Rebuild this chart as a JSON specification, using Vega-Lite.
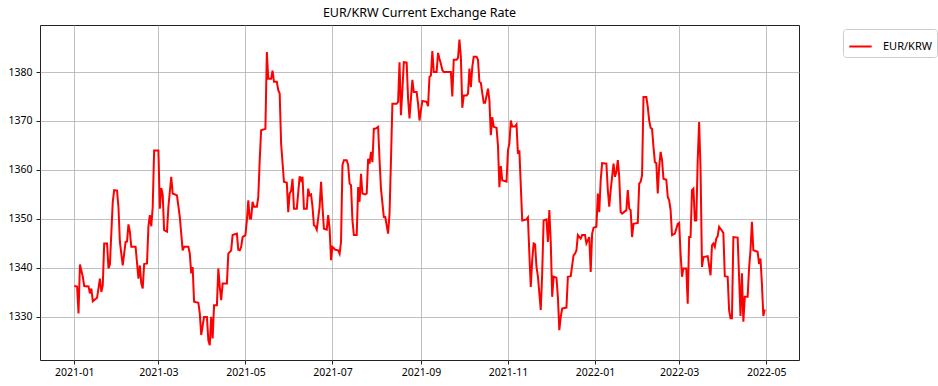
{
  "$schema": "https://vega.github.io/schema/vega-lite/v6.json",
  "autosize": {"type": "none"},
  "width": 759,
  "height": 335,
  "padding": {"left": 40, "top": 25, "right": 139, "bottom": 26},
  "background": "white",
  "title": {"text": "EUR/KRW Current Exchange Rate", "fontSize": 12.5, "fontWeight": "normal", "font": "Noto Sans", "color": "black", "anchor": "middle", "offset": 6},
  "config": {
    "font": "Noto Sans",
    "view": {"stroke": "#222", "strokeWidth": 1},
    "axis": {"labelColor": "black", "labelFontSize": 10.5, "tickColor": "#222", "tickSize": 4, "domain": false, "gridColor": "#b0b0b0", "gridWidth": 0.8, "labelPadding": 3, "title": null},
    "legend": {"labelFontSize": 11, "labelColor": "black"}
  },
  "data": {"values": [
{"date":"2021-01-01","rate":1336.3},{"date":"2021-01-03","rate":1336.2},{"date":"2021-01-04","rate":1330.7},{"date":"2021-01-05","rate":1340.7},{"date":"2021-01-07","rate":1338.2},{"date":"2021-01-08","rate":1336.3},{"date":"2021-01-11","rate":1336.2},{"date":"2021-01-12","rate":1334.8},{"date":"2021-01-13","rate":1335.8},{"date":"2021-01-14","rate":1333.2},{"date":"2021-01-17","rate":1333.9},{"date":"2021-01-19","rate":1337.8},{"date":"2021-01-20","rate":1335.1},{"date":"2021-01-21","rate":1336.5},{"date":"2021-01-22","rate":1345.0},{"date":"2021-01-24","rate":1345.0},{"date":"2021-01-25","rate":1339.9},{"date":"2021-01-26","rate":1340.7},{"date":"2021-01-28","rate":1353.5},{"date":"2021-01-29","rate":1355.9},{"date":"2021-01-31","rate":1355.8},
{"date":"2021-02-01","rate":1352.4},{"date":"2021-02-02","rate":1345.3},{"date":"2021-02-04","rate":1340.5},{"date":"2021-02-05","rate":1342.9},{"date":"2021-02-06","rate":1345.3},{"date":"2021-02-07","rate":1345.4},{"date":"2021-02-08","rate":1348.9},{"date":"2021-02-09","rate":1347.4},{"date":"2021-02-10","rate":1344.3},{"date":"2021-02-13","rate":1344.3},{"date":"2021-02-15","rate":1337.8},{"date":"2021-02-16","rate":1340.5},{"date":"2021-02-17","rate":1336.8},{"date":"2021-02-18","rate":1335.8},{"date":"2021-02-19","rate":1340.8},{"date":"2021-02-21","rate":1340.9},{"date":"2021-02-22","rate":1348.5},{"date":"2021-02-23","rate":1350.8},{"date":"2021-02-24","rate":1348.5},{"date":"2021-02-25","rate":1352.4},{"date":"2021-02-26","rate":1364.0},
{"date":"2021-03-01","rate":1364.0},{"date":"2021-03-02","rate":1352.1},{"date":"2021-03-03","rate":1356.3},{"date":"2021-03-04","rate":1355.0},{"date":"2021-03-05","rate":1347.7},{"date":"2021-03-07","rate":1347.4},{"date":"2021-03-08","rate":1352.5},{"date":"2021-03-10","rate":1358.6},{"date":"2021-03-11","rate":1355.2},{"date":"2021-03-14","rate":1354.8},{"date":"2021-03-16","rate":1350.4},{"date":"2021-03-18","rate":1343.6},{"date":"2021-03-19","rate":1344.3},{"date":"2021-03-22","rate":1344.3},{"date":"2021-03-23","rate":1342.9},{"date":"2021-03-24","rate":1338.9},{"date":"2021-03-25","rate":1340.2},{"date":"2021-03-26","rate":1333.1},{"date":"2021-03-29","rate":1332.9},{"date":"2021-03-30","rate":1330.7},{"date":"2021-03-31","rate":1326.3},
{"date":"2021-04-02","rate":1330.0},{"date":"2021-04-04","rate":1330.0},{"date":"2021-04-05","rate":1325.2},{"date":"2021-04-06","rate":1324.2},{"date":"2021-04-07","rate":1330.0},{"date":"2021-04-08","rate":1325.6},{"date":"2021-04-09","rate":1332.4},{"date":"2021-04-11","rate":1332.4},{"date":"2021-04-12","rate":1339.9},{"date":"2021-04-13","rate":1336.1},{"date":"2021-04-14","rate":1333.4},{"date":"2021-04-15","rate":1336.8},{"date":"2021-04-18","rate":1336.8},{"date":"2021-04-19","rate":1342.9},{"date":"2021-04-21","rate":1343.6},{"date":"2021-04-22","rate":1346.7},{"date":"2021-04-25","rate":1347.0},{"date":"2021-04-26","rate":1343.7},{"date":"2021-04-27","rate":1343.6},{"date":"2021-04-28","rate":1344.3},{"date":"2021-04-29","rate":1346.3},
{"date":"2021-05-01","rate":1346.7},{"date":"2021-05-02","rate":1349.7},{"date":"2021-05-03","rate":1353.8},{"date":"2021-05-04","rate":1350.1},{"date":"2021-05-05","rate":1350.1},{"date":"2021-05-06","rate":1353.5},{"date":"2021-05-07","rate":1352.5},{"date":"2021-05-09","rate":1352.5},{"date":"2021-05-10","rate":1354.5},{"date":"2021-05-11","rate":1362.0},{"date":"2021-05-12","rate":1368.1},{"date":"2021-05-15","rate":1368.4},{"date":"2021-05-16","rate":1384.1},{"date":"2021-05-17","rate":1378.6},{"date":"2021-05-19","rate":1378.6},{"date":"2021-05-20","rate":1380.3},{"date":"2021-05-21","rate":1378.0},{"date":"2021-05-23","rate":1378.0},{"date":"2021-05-24","rate":1376.3},{"date":"2021-05-25","rate":1375.6},{"date":"2021-05-26","rate":1365.4},{"date":"2021-05-28","rate":1357.6},{"date":"2021-05-30","rate":1357.4},{"date":"2021-05-31","rate":1351.4},
{"date":"2021-06-01","rate":1355.2},{"date":"2021-06-02","rate":1355.7},{"date":"2021-06-03","rate":1358.2},{"date":"2021-06-04","rate":1352.1},{"date":"2021-06-06","rate":1352.1},{"date":"2021-06-08","rate":1358.7},{"date":"2021-06-09","rate":1357.9},{"date":"2021-06-10","rate":1358.6},{"date":"2021-06-11","rate":1352.1},{"date":"2021-06-13","rate":1352.1},{"date":"2021-06-14","rate":1356.2},{"date":"2021-06-15","rate":1354.8},{"date":"2021-06-16","rate":1355.0},{"date":"2021-06-17","rate":1352.5},{"date":"2021-06-18","rate":1348.7},{"date":"2021-06-19","rate":1348.5},{"date":"2021-06-20","rate":1347.8},{"date":"2021-06-22","rate":1352.5},{"date":"2021-06-23","rate":1357.6},{"date":"2021-06-24","rate":1352.5},{"date":"2021-06-25","rate":1348.0},{"date":"2021-06-27","rate":1347.8},{"date":"2021-06-28","rate":1350.8},{"date":"2021-06-29","rate":1348.0},{"date":"2021-06-30","rate":1341.6},
{"date":"2021-07-01","rate":1344.3},{"date":"2021-07-03","rate":1343.7},{"date":"2021-07-05","rate":1343.6},{"date":"2021-07-06","rate":1342.9},{"date":"2021-07-07","rate":1345.3},{"date":"2021-07-08","rate":1361.0},{"date":"2021-07-09","rate":1362.0},{"date":"2021-07-11","rate":1362.0},{"date":"2021-07-12","rate":1361.0},{"date":"2021-07-13","rate":1357.2},{"date":"2021-07-14","rate":1356.9},{"date":"2021-07-15","rate":1349.7},{"date":"2021-07-16","rate":1346.7},{"date":"2021-07-18","rate":1346.7},{"date":"2021-07-19","rate":1356.5},{"date":"2021-07-20","rate":1353.5},{"date":"2021-07-21","rate":1359.2},{"date":"2021-07-22","rate":1355.2},{"date":"2021-07-24","rate":1355.0},{"date":"2021-07-25","rate":1355.2},{"date":"2021-07-26","rate":1362.3},{"date":"2021-07-27","rate":1361.3},{"date":"2021-07-28","rate":1363.7},{"date":"2021-07-29","rate":1361.6},{"date":"2021-07-30","rate":1368.4},{"date":"2021-07-31","rate":1368.4},
{"date":"2021-08-02","rate":1368.8},{"date":"2021-08-03","rate":1362.0},{"date":"2021-08-04","rate":1356.2},{"date":"2021-08-06","rate":1350.4},{"date":"2021-08-07","rate":1350.4},{"date":"2021-08-09","rate":1347.0},{"date":"2021-08-10","rate":1351.1},{"date":"2021-08-11","rate":1362.0},{"date":"2021-08-12","rate":1373.5},{"date":"2021-08-15","rate":1373.5},{"date":"2021-08-16","rate":1373.9},{"date":"2021-08-17","rate":1382.0},{"date":"2021-08-18","rate":1371.2},{"date":"2021-08-19","rate":1376.3},{"date":"2021-08-20","rate":1382.0},{"date":"2021-08-22","rate":1381.9},{"date":"2021-08-23","rate":1374.6},{"date":"2021-08-24","rate":1370.5},{"date":"2021-08-25","rate":1374.6},{"date":"2021-08-26","rate":1378.4},{"date":"2021-08-27","rate":1375.9},{"date":"2021-08-29","rate":1375.9},{"date":"2021-08-30","rate":1373.5},{"date":"2021-08-31","rate":1370.1},
{"date":"2021-09-01","rate":1372.2},{"date":"2021-09-02","rate":1374.1},{"date":"2021-09-05","rate":1373.9},{"date":"2021-09-06","rate":1373.0},{"date":"2021-09-07","rate":1379.0},{"date":"2021-09-08","rate":1379.3},{"date":"2021-09-09","rate":1384.3},{"date":"2021-09-10","rate":1380.0},{"date":"2021-09-12","rate":1380.0},{"date":"2021-09-13","rate":1383.9},{"date":"2021-09-14","rate":1382.7},{"date":"2021-09-15","rate":1381.7},{"date":"2021-09-16","rate":1380.4},{"date":"2021-09-17","rate":1380.0},{"date":"2021-09-22","rate":1380.0},{"date":"2021-09-23","rate":1375.0},{"date":"2021-09-24","rate":1382.5},{"date":"2021-09-26","rate":1382.5},{"date":"2021-09-27","rate":1382.9},{"date":"2021-09-28","rate":1386.6},{"date":"2021-09-29","rate":1383.1},{"date":"2021-09-30","rate":1372.7},
{"date":"2021-10-01","rate":1375.2},{"date":"2021-10-03","rate":1375.2},{"date":"2021-10-04","rate":1375.6},{"date":"2021-10-05","rate":1380.7},{"date":"2021-10-06","rate":1376.9},{"date":"2021-10-07","rate":1381.0},{"date":"2021-10-08","rate":1383.1},{"date":"2021-10-10","rate":1383.1},{"date":"2021-10-11","rate":1382.5},{"date":"2021-10-12","rate":1378.0},{"date":"2021-10-13","rate":1377.8},{"date":"2021-10-15","rate":1373.7},{"date":"2021-10-16","rate":1373.7},{"date":"2021-10-18","rate":1376.6},{"date":"2021-10-19","rate":1374.2},{"date":"2021-10-20","rate":1367.1},{"date":"2021-10-21","rate":1370.8},{"date":"2021-10-22","rate":1368.8},{"date":"2021-10-24","rate":1368.6},{"date":"2021-10-25","rate":1365.0},{"date":"2021-10-26","rate":1356.5},{"date":"2021-10-27","rate":1360.8},{"date":"2021-10-28","rate":1357.9},{"date":"2021-10-31","rate":1357.6},
{"date":"2021-11-01","rate":1364.0},{"date":"2021-11-02","rate":1365.4},{"date":"2021-11-03","rate":1370.1},{"date":"2021-11-04","rate":1368.9},{"date":"2021-11-06","rate":1368.9},{"date":"2021-11-07","rate":1369.3},{"date":"2021-11-08","rate":1363.3},{"date":"2021-11-09","rate":1364.0},{"date":"2021-11-11","rate":1349.7},{"date":"2021-11-14","rate":1349.9},{"date":"2021-11-15","rate":1350.3},{"date":"2021-11-16","rate":1342.9},{"date":"2021-11-17","rate":1336.1},{"date":"2021-11-18","rate":1341.6},{"date":"2021-11-19","rate":1345.0},{"date":"2021-11-20","rate":1344.8},{"date":"2021-11-21","rate":1340.2},{"date":"2021-11-22","rate":1338.3},{"date":"2021-11-23","rate":1334.8},{"date":"2021-11-24","rate":1331.4},{"date":"2021-11-25","rate":1338.9},{"date":"2021-11-26","rate":1349.7},{"date":"2021-11-28","rate":1349.9},{"date":"2021-11-29","rate":1345.3},{"date":"2021-11-30","rate":1351.8},
{"date":"2021-12-01","rate":1345.3},{"date":"2021-12-02","rate":1334.1},{"date":"2021-12-03","rate":1338.2},{"date":"2021-12-05","rate":1338.0},{"date":"2021-12-06","rate":1334.1},{"date":"2021-12-07","rate":1327.3},{"date":"2021-12-08","rate":1330.0},{"date":"2021-12-09","rate":1331.7},{"date":"2021-12-12","rate":1331.9},{"date":"2021-12-13","rate":1338.2},{"date":"2021-12-15","rate":1338.3},{"date":"2021-12-17","rate":1342.6},{"date":"2021-12-18","rate":1342.9},{"date":"2021-12-19","rate":1343.6},{"date":"2021-12-20","rate":1346.7},{"date":"2021-12-22","rate":1346.0},{"date":"2021-12-23","rate":1346.7},{"date":"2021-12-25","rate":1346.7},{"date":"2021-12-26","rate":1345.0},{"date":"2021-12-28","rate":1346.3},{"date":"2021-12-29","rate":1339.2},{"date":"2021-12-30","rate":1347.0},{"date":"2021-12-31","rate":1348.2},
{"date":"2022-01-02","rate":1348.4},{"date":"2022-01-03","rate":1355.2},{"date":"2022-01-04","rate":1351.4},{"date":"2022-01-05","rate":1357.9},{"date":"2022-01-06","rate":1361.4},{"date":"2022-01-09","rate":1361.3},{"date":"2022-01-10","rate":1355.9},{"date":"2022-01-11","rate":1352.5},{"date":"2022-01-12","rate":1355.9},{"date":"2022-01-14","rate":1361.3},{"date":"2022-01-15","rate":1358.6},{"date":"2022-01-16","rate":1359.6},{"date":"2022-01-17","rate":1362.0},{"date":"2022-01-18","rate":1358.6},{"date":"2022-01-19","rate":1351.4},{"date":"2022-01-20","rate":1351.1},{"date":"2022-01-23","rate":1351.8},{"date":"2022-01-24","rate":1355.9},{"date":"2022-01-25","rate":1352.1},{"date":"2022-01-26","rate":1351.8},{"date":"2022-01-27","rate":1346.3},{"date":"2022-01-28","rate":1349.0},{"date":"2022-01-31","rate":1349.2},
{"date":"2022-02-01","rate":1357.2},{"date":"2022-02-02","rate":1357.6},{"date":"2022-02-03","rate":1358.9},{"date":"2022-02-04","rate":1374.9},{"date":"2022-02-06","rate":1374.9},{"date":"2022-02-07","rate":1372.9},{"date":"2022-02-08","rate":1370.1},{"date":"2022-02-09","rate":1368.6},{"date":"2022-02-10","rate":1368.4},{"date":"2022-02-11","rate":1364.7},{"date":"2022-02-12","rate":1361.6},{"date":"2022-02-13","rate":1361.4},{"date":"2022-02-14","rate":1355.2},{"date":"2022-02-15","rate":1360.6},{"date":"2022-02-16","rate":1363.7},{"date":"2022-02-17","rate":1362.0},{"date":"2022-02-18","rate":1358.2},{"date":"2022-02-20","rate":1358.0},{"date":"2022-02-21","rate":1354.5},{"date":"2022-02-22","rate":1353.8},{"date":"2022-02-23","rate":1351.8},{"date":"2022-02-24","rate":1346.7},{"date":"2022-02-26","rate":1347.0},{"date":"2022-02-28","rate":1349.0},
{"date":"2022-03-01","rate":1349.2},{"date":"2022-03-02","rate":1342.9},{"date":"2022-03-03","rate":1338.2},{"date":"2022-03-04","rate":1339.9},{"date":"2022-03-06","rate":1339.9},{"date":"2022-03-07","rate":1332.7},{"date":"2022-03-08","rate":1346.3},{"date":"2022-03-09","rate":1346.3},{"date":"2022-03-10","rate":1355.9},{"date":"2022-03-11","rate":1356.2},{"date":"2022-03-12","rate":1349.7},{"date":"2022-03-13","rate":1349.7},{"date":"2022-03-14","rate":1362.0},{"date":"2022-03-15","rate":1369.8},{"date":"2022-03-16","rate":1360.0},{"date":"2022-03-17","rate":1340.2},{"date":"2022-03-18","rate":1342.2},{"date":"2022-03-21","rate":1342.4},{"date":"2022-03-23","rate":1338.5},{"date":"2022-03-24","rate":1344.6},{"date":"2022-03-25","rate":1345.0},{"date":"2022-03-26","rate":1344.3},{"date":"2022-03-27","rate":1346.0},{"date":"2022-03-28","rate":1346.5},{"date":"2022-03-29","rate":1348.4},{"date":"2022-03-31","rate":1347.6},
{"date":"2022-04-01","rate":1347.1},{"date":"2022-04-02","rate":1338.3},{"date":"2022-04-04","rate":1338.2},{"date":"2022-04-05","rate":1331.4},{"date":"2022-04-06","rate":1329.7},{"date":"2022-04-07","rate":1329.7},{"date":"2022-04-08","rate":1346.3},{"date":"2022-04-11","rate":1346.2},{"date":"2022-04-12","rate":1338.2},{"date":"2022-04-13","rate":1330.2},{"date":"2022-04-14","rate":1338.9},{"date":"2022-04-15","rate":1329.0},{"date":"2022-04-16","rate":1334.1},{"date":"2022-04-18","rate":1334.1},{"date":"2022-04-19","rate":1339.9},{"date":"2022-04-20","rate":1343.6},{"date":"2022-04-21","rate":1349.4},{"date":"2022-04-22","rate":1343.6},{"date":"2022-04-25","rate":1343.3},{"date":"2022-04-26","rate":1340.8},{"date":"2022-04-27","rate":1341.9},{"date":"2022-04-28","rate":1336.8},{"date":"2022-04-29","rate":1330.2},{"date":"2022-04-30","rate":1331.5}
  ]},
  "mark": {"type": "line", "strokeWidth": 2, "interpolate": "linear"},
  "encoding": {
    "x": {
      "field": "date", "type": "temporal",
      "scale": {"type": "utc", "domain": [{"year": 2020, "month": 12, "date": 8, "utc": true}, {"year": 2022, "month": 5, "date": 24, "utc": true}], "nice": false},
      "axis": {"format": "%Y-%m", "values": [
        {"year": 2021, "month": 1, "date": 1, "utc": true},
        {"year": 2021, "month": 3, "date": 1, "utc": true},
        {"year": 2021, "month": 5, "date": 1, "utc": true},
        {"year": 2021, "month": 7, "date": 1, "utc": true},
        {"year": 2021, "month": 9, "date": 1, "utc": true},
        {"year": 2021, "month": 11, "date": 1, "utc": true},
        {"year": 2022, "month": 1, "date": 1, "utc": true},
        {"year": 2022, "month": 3, "date": 1, "utc": true},
        {"year": 2022, "month": 5, "date": 1, "utc": true}
      ], "labelFlush": false, "labelOverlap": false}
    },
    "y": {
      "field": "rate", "type": "quantitative",
      "scale": {"domain": [1321.2, 1389.6], "nice": false, "zero": false},
      "axis": {"values": [1330, 1340, 1350, 1360, 1370, 1380], "format": "d", "labelPadding": 4}
    },
    "color": {
      "datum": "EUR/KRW",
      "scale": {"range": ["#ff0000"]},
      "legend": {"title": null, "orient": "none", "legendX": 803, "legendY": 4, "symbolType": "stroke", "symbolStrokeWidth": 2, "symbolSize": 500, "strokeColor": "#cccccc", "cornerRadius": 3, "padding": 5, "fillColor": "white", "labelOffset": 10}
    }
  }
}
